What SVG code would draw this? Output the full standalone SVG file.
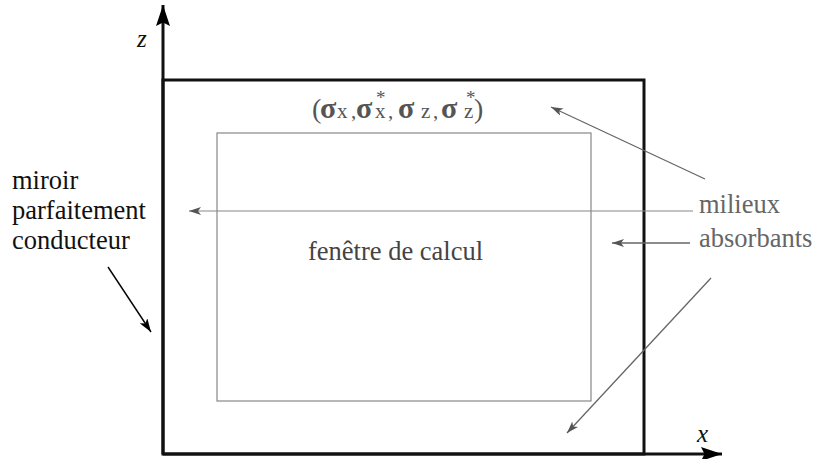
<svg xmlns="http://www.w3.org/2000/svg" width="816" height="459" viewBox="0 0 816 459">
<defs>
<marker id="ah" viewBox="0 0 12 8" refX="12" refY="4" markerWidth="12" markerHeight="8" markerUnits="userSpaceOnUse" orient="auto">
<path d="M0,0 L12,4 L0,8 L3,4 z" fill="#555"/>
</marker>
<marker id="ahb" viewBox="0 0 12 8" refX="12" refY="4" markerWidth="14" markerHeight="9" markerUnits="userSpaceOnUse" orient="auto">
<path d="M0,0 L12,4 L0,8 L3,4 z" fill="#000"/>
</marker>
<marker id="axh" viewBox="0 0 12 8" refX="12" refY="4" markerWidth="34" markerHeight="14" markerUnits="userSpaceOnUse" orient="auto">
<path d="M0,0 L12,4 L0,8 L2,4 z" fill="#000"/>
</marker>
</defs>
<rect width="816" height="459" fill="#fff"/>
<g id="axes">
<line x1="163" y1="454" x2="163" y2="5" stroke="#111" stroke-width="3" marker-end="url(#axh)"/>
<line x1="163" y1="454" x2="722" y2="454" stroke="#111" stroke-width="3" marker-end="url(#axh)"/>
<text x="137" y="47" font-family="Liberation Serif" font-size="25" font-style="italic" fill="#111">z</text>
<text x="697" y="442" font-family="Liberation Serif" font-size="25" font-style="italic" fill="#111">x</text>
</g>
<g id="pml">
<rect x="163" y="80" width="481" height="374" fill="none" stroke="#111" stroke-width="3"/>
<text y="118" font-family="Liberation Serif" fill="#555" font-size="21"><tspan x="312" font-size="28">(</tspan><tspan x="320" font-size="30" font-weight="bold">σ</tspan><tspan x="337">x</tspan><tspan x="351">,</tspan><tspan x="356" font-size="30" font-weight="bold">σ</tspan><tspan x="375">x</tspan><tspan x="388">,</tspan><tspan x="398" font-size="30" font-weight="bold">σ</tspan><tspan x="421">z</tspan><tspan x="433">,</tspan><tspan x="441" font-size="30" font-weight="bold">σ</tspan><tspan x="464">z</tspan><tspan x="474" font-size="28">)</tspan></text>
<text x="376" y="104" font-family="Liberation Serif" fill="#555" font-size="19">*</text>
<text x="466" y="104" font-family="Liberation Serif" fill="#555" font-size="19">*</text>
</g>
<g id="window">
<rect x="217" y="133" width="374" height="268" fill="none" stroke="#888" stroke-width="1.2"/>
<text x="308" y="260" font-family="Liberation Serif" font-size="26.5" fill="#444">fenêtre de calcul</text>
</g>
<g id="mirror" font-family="Liberation Serif" font-size="26.5" fill="#111">
<text x="12" y="189" font-family="Liberation Serif">miroir</text>
<text x="12" y="219" font-family="Liberation Serif">parfaitement</text>
<text x="12" y="249" font-family="Liberation Serif">conducteur</text>
</g>
<g id="absorb" font-family="Liberation Serif" font-size="26.5" fill="#666">
<text x="699" y="213" font-family="Liberation Serif">milieux</text>
<text x="699" y="247" font-family="Liberation Serif">absorbants</text>
</g>
<g id="connectors" fill="none">
<line x1="693" y1="211" x2="189" y2="211" stroke="#888" stroke-width="1.2" marker-end="url(#ah)"/>
<line x1="690" y1="243" x2="612" y2="243" stroke="#666" stroke-width="1.3" marker-end="url(#ah)"/>
<line x1="705" y1="179" x2="551" y2="107" stroke="#666" stroke-width="1.3" marker-end="url(#ah)"/>
<line x1="711" y1="278" x2="567" y2="433" stroke="#666" stroke-width="1.3" marker-end="url(#ah)"/>
<line x1="108" y1="267" x2="151" y2="332" stroke="#000" stroke-width="1.4" marker-end="url(#ahb)"/>
</g>
</svg>
